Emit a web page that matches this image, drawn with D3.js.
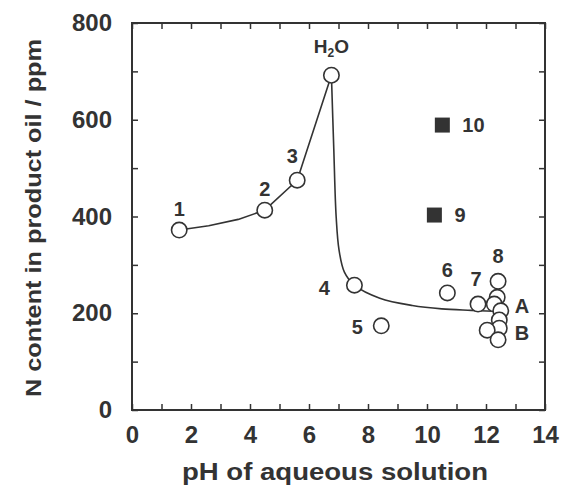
<!DOCTYPE html>
<html>
<head>
<meta charset="utf-8">
<script src="https://cdn.jsdelivr.net/npm/d3@7"></script>
<style>
  html, body { margin: 0; padding: 0; background: #fff; }
  svg text { font-family: "Liberation Sans", Arial, sans-serif; font-weight: bold; fill: #333; }
</style>
</head>
<body>
<svg id="chart" width="564" height="489"></svg>
<script>
// ---- data ----
const xTicks = [0, 1, 2, 3, 4, 5, 6, 7, 8, 9, 10, 11, 12, 13, 14];
const yTicks = [0, 100, 200, 300, 400, 500, 600, 700, 800];
const xTitle = "pH of aqueous solution";
const yTitle = "N content in product oil / ppm";

// open circles: [pH, N ppm, label]
const openPH    = [1.6, 4.5, 5.6, 6.76, 7.54, 8.45, 10.69, 11.73, 12.41, 12.38, 12.28, 12.5, 12.45, 12.45, 12.04, 12.41];
const openN     = [372, 413, 475, 692, 258, 174, 242, 219, 266, 233, 219, 205, 186, 169, 165, 145];
const openLabel = ["1", "2", "3", "H2O", "4", "5", "6", "7", "8", "", "", "", "", "", "", ""];

// filled squares
const sqPH    = [10.25, 10.52];
const sqN     = [403, 589];
const sqLabel = ["9", "10"];

// group letters
const letterText = ["A", "B"];
const letterPH   = [13.22, 13.22];
const letterN    = [200, 145];

// hand-drawn trend curve (left branch and right branch)
const curveLeftPH  = [1.6, 2.6, 3.6, 4.5, 5.6, 6.76];
const curveLeftN   = [372, 381, 394, 413, 475, 692];
const curveRightPH = [6.76, 6.84, 6.92, 7.02, 7.2, 7.54, 8.4, 9.5, 10.5, 11.5, 12.25];
const curveRightN  = [692, 540, 400, 330, 285, 258, 231, 216, 209, 206, 204];

// ---- drawing ----
const svg = d3.select("#chart");
const x = d3.scaleLinear().domain([0, 14]).range([132, 545]);
const y = d3.scaleLinear().domain([0, 800]).range([410, 23]);
const ink = "#333";

// frame
svg.append("rect")
  .attr("x", x(0)).attr("y", y(800))
  .attr("width", x(14) - x(0)).attr("height", y(0) - y(800))
  .attr("fill", "none").attr("stroke", ink).attr("stroke-width", 2);

function styleAxis(g) {
  g.select(".domain").remove();
  g.selectAll(".tick line").attr("stroke", ink).attr("stroke-width", 1.5);
  g.selectAll(".tick text").style("font-size", "24px").attr("fill", ink);
}

svg.append("g").attr("transform", `translate(0,${y(0)})`)
  .call(d3.axisBottom(x).tickValues(xTicks).tickSize(-6).tickPadding(16)
    .tickFormat(d => d % 2 === 0 ? d : ""))
  .call(styleAxis);
svg.append("g").attr("transform", `translate(0,${y(800)})`)
  .call(d3.axisTop(x).tickValues(xTicks).tickSize(-6).tickFormat(""))
  .call(styleAxis);
svg.append("g").attr("transform", `translate(${x(0)},0)`)
  .call(d3.axisLeft(y).tickValues(yTicks).tickSize(-6).tickPadding(20)
    .tickFormat(d => d % 200 === 0 ? d : ""))
  .call(styleAxis);
svg.append("g").attr("transform", `translate(${x(14)},0)`)
  .call(d3.axisRight(y).tickValues(yTicks).tickSize(-6).tickFormat(""))
  .call(styleAxis);

// titles
svg.append("text").attr("x", 335).attr("y", 480)
  .attr("text-anchor", "middle").style("font-size", "23px")
  .attr("textLength", 306).attr("lengthAdjust", "spacingAndGlyphs").text(xTitle);
svg.append("text").attr("transform", `translate(41,218) rotate(-90)`)
  .attr("text-anchor", "middle").style("font-size", "22px")
  .attr("textLength", 358).attr("lengthAdjust", "spacingAndGlyphs").text(yTitle);

// curves
const lineL = d3.line().x(d => x(d[0])).y(d => y(d[1])).curve(d3.curveLinear);
const lineR = d3.line().x(d => x(d[0])).y(d => y(d[1])).curve(d3.curveCatmullRom.alpha(0.5));
svg.append("path").datum(curveLeftPH.map((p, i) => [p, curveLeftN[i]]))
  .attr("d", lineL).attr("fill", "none").attr("stroke", ink).attr("stroke-width", 1.6)
  .attr("stroke-linejoin", "round");
svg.append("path").datum(curveRightPH.map((p, i) => [p, curveRightN[i]]))
  .attr("d", lineR).attr("fill", "none").attr("stroke", ink).attr("stroke-width", 1.6);

// open circles
const openData = openPH.map((p, i) => ({ p, n: openN[i], l: openLabel[i] }));
svg.append("g").selectAll("circle").data(openData).join("circle")
  .attr("cx", d => x(d.p)).attr("cy", d => y(d.n)).attr("r", 7.7)
  .attr("fill", "#fff").attr("stroke", ink).attr("stroke-width", 1.6);

// squares
const sqData = sqPH.map((p, i) => ({ p, n: sqN[i], l: sqLabel[i] }));
svg.append("g").selectAll("rect").data(sqData).join("rect")
  .attr("x", d => x(d.p) - 7.5).attr("y", d => y(d.n) - 7.5)
  .attr("width", 15).attr("height", 15).attr("fill", "#333");

// labels for points
const labelOffsets = {
  "1": [0, -14], "2": [0, -14], "3": [-5, -17], "H2O": [0, -22],
  "4": [-30, 10], "5": [-24, 8], "6": [0, -16], "7": [-2, -18], "8": [0, -18]
};
const lab = svg.append("g").style("font-size", "20px");
openData.filter(d => d.l).forEach(d => {
  const o = labelOffsets[d.l];
  const t = lab.append("text").attr("x", x(d.p) + o[0]).attr("y", y(d.n) + o[1])
    .attr("text-anchor", "middle");
  if (d.l === "H2O") {
    t.style("font-size", "19px");
    t.append("tspan").text("H");
    t.append("tspan").text("2").style("font-size", "12px").attr("dy", 4);
    t.append("tspan").text("O").attr("dy", -4);
  } else {
    t.text(d.l);
  }
});
sqData.forEach(d => {
  lab.append("text").attr("x", x(d.p) + 20).attr("y", y(d.n) + 7).text(d.l);
});
letterText.forEach((s, i) => {
  lab.append("text").attr("x", x(letterPH[i])).attr("y", y(letterN[i]))
    .attr("text-anchor", "middle").text(s);
});
</script>
</body>
</html>
